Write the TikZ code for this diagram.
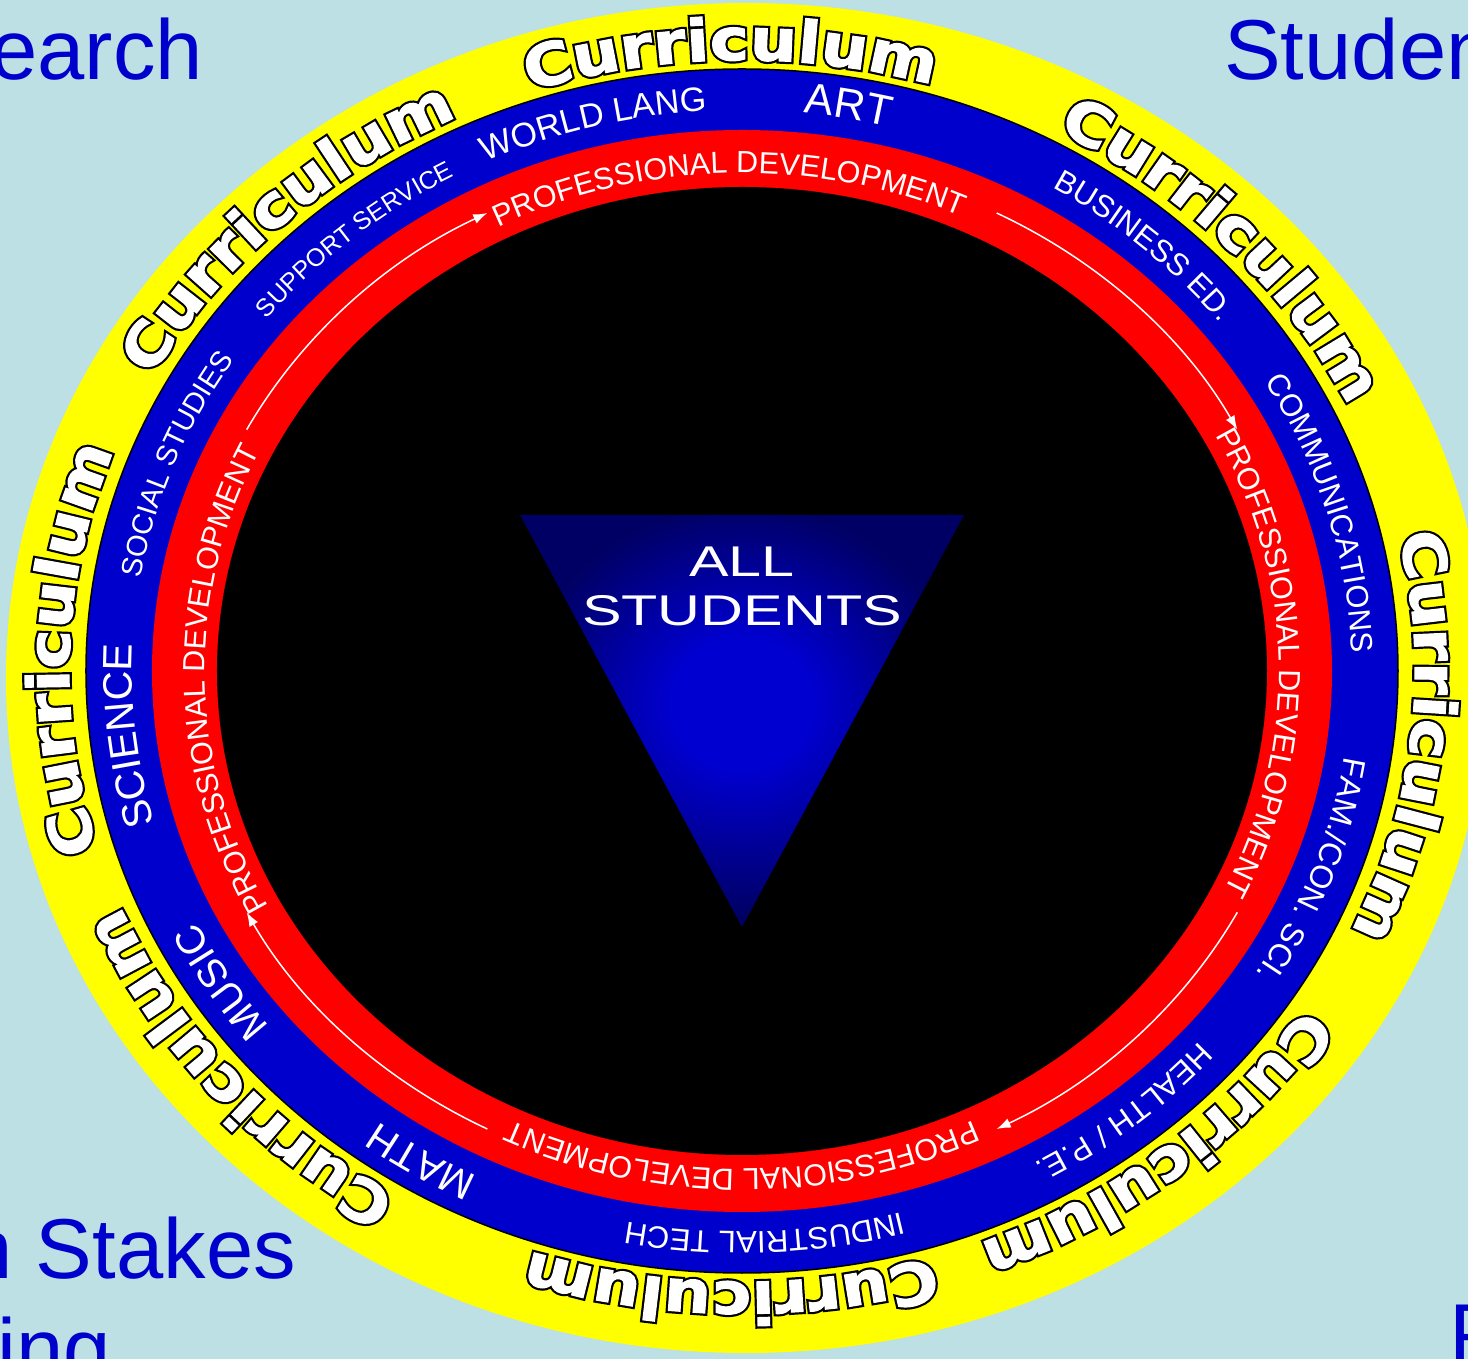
\documentclass[tikz,border=0pt]{standalone}
\usepackage{fontspec}
\setmainfont{Liberation Sans}
\newfontfamily\curfont[FakeStretch=1.14]{DejaVu Sans}
\newfontfamily\widefont[FakeStretch=1.38]{Liberation Sans}
\usetikzlibrary{decorations.text,arrows.meta}

\definecolor{wallbg}{RGB}{188,224,228}
\definecolor{ringyellow}{RGB}{255,255,0}
\definecolor{ringblue}{RGB}{0,0,204}
\definecolor{ringred}{RGB}{255,0,0}
\definecolor{triin}{RGB}{0,0,208}
\definecolor{triout}{RGB}{0,0,100}

\pgfdeclareradialshading{trishade}{\pgfpoint{0bp}{2.5bp}}{color(0bp)=(triin); color(8bp)=(triin); color(25bp)=(triout); color(50bp)=(triout)}

\newcommand\lab[1]{\fontsize{#1}{#1}\selectfont}
% rim and face of the outlined letters
\newcommand\rimblack{\special{pdf:literal direct 0 0 0 rg 0 0 0 RG 2 Tr 5.6 w}}
\newcommand\rimwhite{\special{pdf:literal direct 1 1 1 rg 1 1 1 RG 2 Tr 1.2 w}}

\tikzset{
  ringtext/.style={decorate, decoration={text along path, text={#1}, text align=center, text color=white}},
  curword/.style={decorate, decoration={text along path, text={|\curfont\bfseries\lab{58}#1|Curriculum}, text align=center, text color=white}},
  yellowarc/.style={insert path={(#1+40:673 and 611) arc[start angle=#1+40, end angle=#1-40, x radius=673, y radius=611]}},
  bluearc/.style={insert path={(#1+40:610 and 561) arc[start angle=#1+40, end angle=#1-40, x radius=610, y radius=561]}},
  redarc/.style={insert path={(#1+45:537 and 498) arc[start angle=#1+45, end angle=#1-45, x radius=537, y radius=498]}},
  pdarrow/.style={white, line width=1.5pt, -{Latex[length=14pt,width=10pt]}},
  cornertext/.style={text=ringblue, font=\lab{85}, inner sep=0pt, anchor=base west},
  midtext/.style={text=white, font=\widefont\lab{43}, inner sep=0pt, anchor=base},
}

\begin{document}
\begin{tikzpicture}[x=1pt, y=1pt]
% Background
\useasboundingbox (-742,671) rectangle (726,-688);
\clip (-742,671) rectangle (726,-688);
\fill[wallbg] (-742,671) rectangle (726,-688);

% Rings
\fill[ringyellow] (4,-7) ellipse[x radius=740, y radius=675];
\filldraw[fill=ringblue, draw=black, line width=1.5pt] (0,0) ellipse[x radius=656, y radius=602];
\fill[ringred] (0,0) ellipse[x radius=590, y radius=541];
\fill[black] (0,0) ellipse[x radius=525, y radius=484];

% Subjects
\path[ringtext={|\lab{34}|WORLD LANG}, bluearc=104.5];
\path[ringtext={|\lab{43}|ART}, bluearc=79.8];
\path[ringtext={|\lab{31}|BUSINESS ED.}, bluearc=48];
\path[ringtext={|\lab{31}|COMMUNICATIONS}, bluearc=16];
\path[ringtext={|\lab{32}|FAM./CON. SCI.}, bluearc=-20.1];
\path[ringtext={|\lab{31}|HEALTH / P.E.}, bluearc=-50.5];
\path[ringtext={|\lab{31}|INDUSTRIAL TECH}, bluearc=-87.8];
\path[ringtext={|\lab{40}|MATH}, bluearc=-122];
\path[ringtext={|\lab{40}|MUSIC}, bluearc=-148];
\path[ringtext={|\lab{41}|SCIENCE}, bluearc=-173.7];
\path[ringtext={|\lab{29}|SOCIAL STUDIES}, bluearc=159];
\path[ringtext={|\lab{25}|SUPPORT SERVICE}, bluearc=130.5];

% Professional development
\foreach \t in {91.5,1,-90,181}
  \path[ringtext={|\lab{30.5}|PROFESSIONAL DEVELOPMENT}, redarc=\t];

\draw[pdarrow] (152:561 and 514) arc[start angle=152, end angle=117, x radius=561, y radius=514];
\draw[pdarrow] (63:561 and 514) arc[start angle=63, end angle=28, x radius=561, y radius=514];
\draw[pdarrow] (-28:561 and 514) arc[start angle=-28, end angle=-63, x radius=561, y radius=514];
\draw[pdarrow] (-117:561 and 514) arc[start angle=-117, end angle=-152, x radius=561, y radius=514];

% Centre
\shade[shading=trishade] (-222,156) -- (222,156) -- (0,-256) -- cycle;
\node[midtext] (all) at (0,94) {ALL};
\node[midtext] (students) at (0,45) {STUDENTS};

% Corners
\node[cornertext] (research) at (-752,591) {earch};
\node[cornertext] (studen) at (482,591) {Studen};
\node[cornertext] (stakes) at (-777,-607) {n Stakes};
\node[cornertext] (testing) at (-745,-707) {ing};
\node[cornertext] (pword) at (707,-692) {P};

% Curriculum, last (rim state)
\foreach \t in {91,43,-6,-50.5,-91,-140,178,134}{
  \path[curword=\rimblack, yellowarc=\t];
  \path[curword=\rimwhite, yellowarc=\t];
}

\end{tikzpicture}
\end{document}
